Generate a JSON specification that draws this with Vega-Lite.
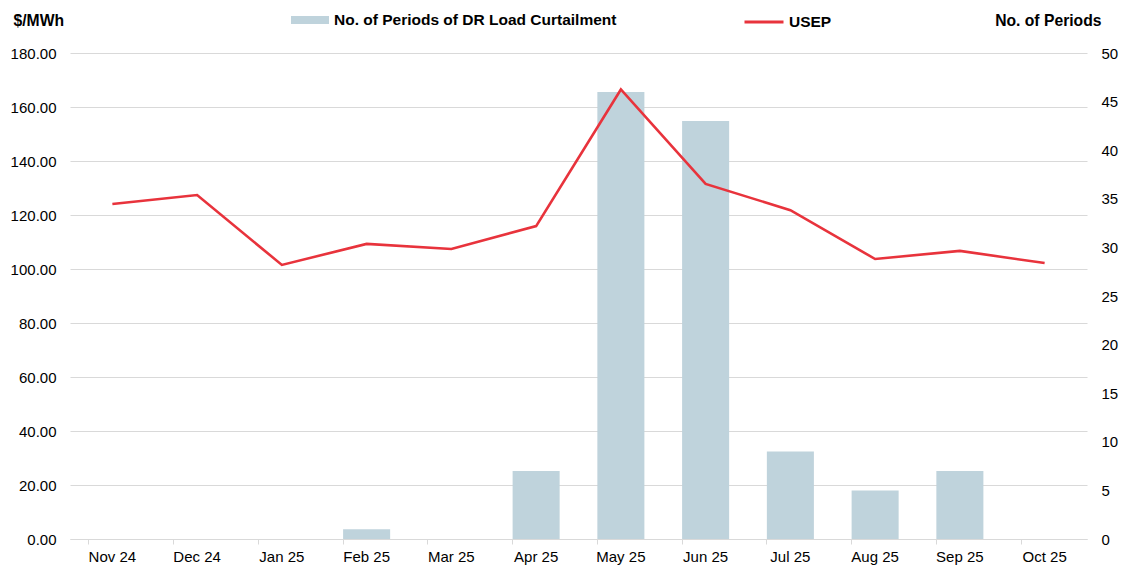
{
  "$schema": "https://vega.github.io/schema/vega-lite/v6.json",
  "width": 1017,
  "height": 486,
  "autosize": {"type": "none"},
  "padding": {"left": 70, "top": 53, "right": 39, "bottom": 30},
  "background": "white",
  "config": {
    "view": {"stroke": null},
    "font": "Liberation Sans",
    "axis": {"labelFont": "Liberation Sans", "labelFontSize": 15, "labelColor": "#000000", "titleFont": "Liberation Sans", "titleFontSize": 15.7, "titleFontWeight": "bold", "titleColor": "#000000"},
    "legend": {"labelFont": "Liberation Sans", "labelFontSize": 15.5, "labelFontWeight": "bold", "labelColor": "#000000", "padding": 0, "labelLimit": 500}
  },
  "data": {
    "values": [
      {"month": "Nov 24", "usep": 124.1, "periods": 0},
      {"month": "Dec 24", "usep": 127.4, "periods": 0},
      {"month": "Jan 25", "usep": 101.5, "periods": 0},
      {"month": "Feb 25", "usep": 109.3, "periods": 1},
      {"month": "Mar 25", "usep": 107.4, "periods": 0},
      {"month": "Apr 25", "usep": 115.9, "periods": 7},
      {"month": "May 25", "usep": 166.5, "periods": 46},
      {"month": "Jun 25", "usep": 131.5, "periods": 43},
      {"month": "Jul 25", "usep": 121.8, "periods": 9},
      {"month": "Aug 25", "usep": 103.7, "periods": 5},
      {"month": "Sep 25", "usep": 106.7, "periods": 7},
      {"month": "Oct 25", "usep": 102.2, "periods": 0}
    ]
  },
  "encoding": {
    "x": {
      "field": "month",
      "type": "ordinal",
      "sort": null,
      "scale": {"paddingInner": 0.445, "paddingOuter": 0.2225},
      "axis": {
        "title": null,
        "labelAngle": 0,
        "bandPosition": 0,
        "domainColor": "#d9d9d9",
        "tickColor": "#d9d9d9",
        "tickSize": 5,
        "labelPadding": 5,
        "grid": false
      }
    }
  },
  "layer": [
    {
      "mark": {"type": "bar", "stroke": null},
      "encoding": {
        "y": {
          "field": "periods",
          "type": "quantitative",
          "scale": {"domain": [0, 50], "nice": false},
          "axis": {
            "orient": "right",
            "title": "No. of Periods",
            "titleAngle": 0,
            "titleAlign": "right",
            "titleBaseline": "middle",
            "titleX": 14,
            "titleY": -33,
            "values": [0, 5, 10, 15, 20, 25, 30, 35, 40, 45, 50],
            "format": "d",
            "domain": false,
            "ticks": false,
            "grid": false,
            "labelPadding": 14
          }
        },
        "color": {
          "datum": "No. of Periods of DR Load Curtailment",
          "scale": {"range": ["#bfd3dc"]},
          "legend": {
            "title": null,
            "orient": "none",
            "legendX": 221,
            "legendY": -52,
            "symbolType": "M-1,-0.21H1V0.21H-1Z",
            "symbolSize": 1444,
            "symbolStrokeWidth": 0,
            "labelOffset": 5,
            "labelLimit": 500
          }
        }
      }
    },
    {
      "mark": {"type": "line", "strokeWidth": 2.6, "strokeJoin": "miter"},
      "encoding": {
        "y": {
          "field": "usep",
          "type": "quantitative",
          "scale": {"domain": [0, 180], "nice": false},
          "axis": {
            "orient": "left",
            "title": "$/MWh",
            "titleAngle": 0,
            "titleAlign": "left",
            "titleBaseline": "middle",
            "titleX": -57,
            "titleY": -33,
            "values": [0, 20, 40, 60, 80, 100, 120, 140, 160, 180],
            "format": ".2f",
            "domain": false,
            "ticks": false,
            "grid": true,
            "gridColor": "#d9d9d9",
            "labelPadding": 14
          }
        },
        "stroke": {
          "datum": "USEP",
          "scale": {"range": ["#e8333c"]},
          "legend": {
            "title": null,
            "orient": "none",
            "legendX": 673,
            "legendY": -52,
            "symbolType": "stroke",
            "symbolSize": 1521,
            "symbolStrokeWidth": 3,
            "labelOffset": 4,
            "labelLimit": 500
          }
        }
      }
    }
  ],
  "resolve": {"scale": {"y": "independent", "color": "independent"}}
}
